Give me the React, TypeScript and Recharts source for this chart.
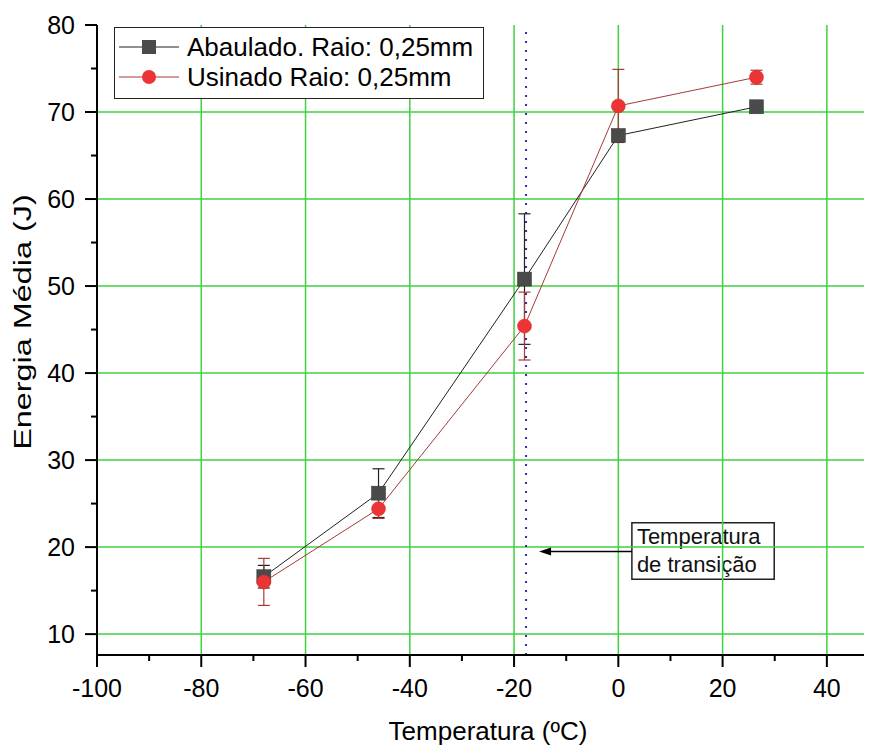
import React from 'react';
import {
  ComposedChart,
  Scatter,
  XAxis,
  YAxis,
  ErrorBar,
  ReferenceLine,
  ReferenceArea,
} from 'recharts';

// ---------- data ----------
const temperatures = [-68, -46, -18, 0, 26.5];
const abauladoValues = [16.6, 26.2, 50.8, 67.3, 70.6];
const abauladoErrors = [1.3, 2.8, 7.5, 0.6, 0.4];
const usinadoValues = [16.0, 24.4, 45.4, 70.7, 74.0];
const usinadoErrors = [2.7, 1.1, 3.9, 4.2, 0.8];
const seriesNames = ['Abaulado. Raio: 0,25mm', 'Usinado Raio: 0,25mm'];

const xTicks = [-100, -90, -80, -70, -60, -50, -40, -30, -20, -10, 0, 10, 20, 30, 40];
const xMajorTicks = [-100, -80, -60, -40, -20, 0, 20, 40];
const xGridValues = [-80, -60, -40, -20, 0, 20, 40];
const yTicks = [10, 15, 20, 25, 30, 35, 40, 45, 50, 55, 60, 65, 70, 75, 80];
const yMajorTicks = [10, 20, 30, 40, 50, 60, 70, 80];
const yGridValues = [10, 20, 30, 40, 50, 60, 70];

const transitionTemperature = -17.7;
const annotationLines = ['Temperatura', 'de transição'];
const annotationBoxX = [2.6, 29.9];
const annotationBoxY = [16.3, 22.8];
const arrowY = 19.5;
const arrowTipX = -15.2;

const xTitle = 'Temperatura (ºC)';
const yTitle = 'Energia Média (J)';

const abauladoData = temperatures.map((t, i) => ({ x: t, y: abauladoValues[i], err: abauladoErrors[i] }));
const usinadoData = temperatures.map((t, i) => ({ x: t, y: usinadoValues[i], err: usinadoErrors[i] }));

// ---------- styles ----------
const FONT = '"Liberation Sans", Arial, sans-serif';
const GRID_COLOR = '#3fd13f';
const BLACK_MARK = '#4a4a4a';
const BLACK_LINE = '#222222';
const RED_MARK = '#ec3434';
const RED_LINE = '#a83a3a';

const XTick = (props: any) => {
  const { x, y, payload } = props;
  const major = xMajorTicks.includes(payload.value);
  return (
    <g>
      <line x1={x} y1={y} x2={x} y2={y + (major ? 12 : 6)} stroke="#000" strokeWidth={2} />
      {major && (
        <text x={x} y={y + 42} textAnchor="middle" fontSize={25} fontFamily={FONT} fill="#000">
          {payload.value}
        </text>
      )}
    </g>
  );
};

const YTick = (props: any) => {
  const { x, y, payload } = props;
  const major = yMajorTicks.includes(payload.value);
  return (
    <g>
      <line x1={x - (major ? 12 : 6)} y1={y} x2={x} y2={y} stroke="#000" strokeWidth={2} />
      {major && (
        <text x={x - 22} y={y} dy="0.36em" textAnchor="end" fontSize={25} fontFamily={FONT} fill="#000">
          {payload.value}
        </text>
      )}
    </g>
  );
};

const renderYTitle = (props: any) => {
  const vb = props.viewBox || {};
  const cx = vb.x + 6;
  const cy = vb.y + vb.height / 2 - 18;
  return (
    <text
      transform={`translate(${cx},${cy}) rotate(-90) scale(1.35,1)`}
      textAnchor="middle"
      dominantBaseline="central"
      fontSize={24}
      fontFamily={FONT}
      fill="#000"
    >
      {yTitle}
    </text>
  );
};

const renderXTitle = (props: any) => {
  const vb = props.viewBox || {};
  const cx = vb.x + vb.width / 2;
  const cy = vb.y + 85;
  return (
    <text x={cx} y={cy} textAnchor="middle" fontSize={26} fontFamily={FONT} fill="#000">
      {xTitle}
    </text>
  );
};

const SquareShape = (props: any) => {
  const { cx, cy } = props;
  if (cx == null || cy == null) return null;
  return <rect x={cx - 7} y={cy - 7} width={14} height={14} fill={BLACK_MARK} stroke="#333" strokeWidth={0.5} />;
};

const CircleShape = (props: any) => {
  const { cx, cy } = props;
  if (cx == null || cy == null) return null;
  return <circle cx={cx} cy={cy} r={7} fill={RED_MARK} stroke="#d82828" strokeWidth={0.5} />;
};

const ArrowShape = (props: any) => {
  const { x1, y1, x2, y2 } = props;
  const tipX = x2;
  const tipY = y2;
  return (
    <g>
      <line x1={x1} y1={y1} x2={tipX + 10} y2={tipY} stroke="#000" strokeWidth={1.5} />
      <polygon points={`${tipX},${tipY} ${tipX + 12},${tipY - 4} ${tipX + 12},${tipY + 4}`} fill="#000" />
    </g>
  );
};

const renderAnnotation = (props: any) => {
  const vb = props.viewBox || {};
  return (
    <g>
      {annotationLines.map((line, i) => (
        <text
          key={line}
          x={vb.x + 5}
          y={vb.y + 21 + i * 28}
          fontSize={22}
          fontFamily={FONT}
          fill="#111"
        >
          {line}
        </text>
      ))}
    </g>
  );
};

const LegendIcon = ({ kind }: { kind: 'square' | 'circle' }) => (
  <svg width={60} height={30} style={{ display: 'block' }}>
    <line x1={0} y1={15} x2={60} y2={15} stroke={kind === 'square' ? BLACK_LINE : RED_LINE} strokeWidth={1.2} />
    {kind === 'square' ? (
      <rect x={23} y={8} width={14} height={14} fill={BLACK_MARK} />
    ) : (
      <circle cx={30} cy={15} r={7} fill={RED_MARK} />
    )}
  </svg>
);

export default function App() {
  return (
    <div style={{ position: 'relative', width: 864, height: 741, overflow: 'hidden', background: '#fff' }}>
      <ComposedChart
        width={880}
        height={741}
        margin={{ top: 17, right: 9, bottom: 34, left: 9 }}
        style={{ fontFamily: FONT }}
      >
        <XAxis
          type="number"
          dataKey="x"
          domain={[-100, 50]}
          ticks={xTicks}
          interval={0}
          tick={<XTick />}
          tickLine={false}
          tickSize={0}
          tickMargin={0}
          axisLine={{ stroke: '#000', strokeWidth: 2 }}
          height={60}
          allowDataOverflow
          label={renderXTitle}
        />
        <YAxis
          type="number"
          dataKey="y"
          domain={[7.6, 80]}
          ticks={yTicks}
          interval={0}
          tick={<YTick />}
          tickLine={false}
          tickSize={0}
          tickMargin={0}
          axisLine={{ stroke: '#000', strokeWidth: 2 }}
          width={80}
          allowDataOverflow
          label={renderYTitle}
        />
        {xGridValues.map((v) => (
          <ReferenceLine key={`gx${v}`} x={v} stroke={GRID_COLOR} strokeWidth={1.5} />
        ))}
        {yGridValues.map((v) => (
          <ReferenceLine key={`gy${v}`} y={v} stroke={GRID_COLOR} strokeWidth={1.5} />
        ))}
        <ReferenceLine
          x={transitionTemperature}
          stroke="#2b2ba8"
          strokeWidth={2}
          strokeDasharray="2 7"
        />
        <ReferenceArea
          x1={annotationBoxX[0]}
          x2={annotationBoxX[1]}
          y1={annotationBoxY[0]}
          y2={annotationBoxY[1]}
          fill="#fff"
          fillOpacity={0}
          stroke="#222"
          strokeWidth={1.5}
          label={renderAnnotation}
        />
        <ReferenceLine
          segment={[
            { x: annotationBoxX[0], y: arrowY },
            { x: arrowTipX, y: arrowY },
          ]}
          shape={<ArrowShape />}
        />
        <Scatter
          name={seriesNames[0]}
          data={abauladoData}
          dataKey="y"
          fill={BLACK_MARK}
          line={{ stroke: BLACK_LINE, strokeWidth: 1 }}
          shape={<SquareShape />}
          isAnimationActive={false}
        >
          <ErrorBar dataKey="err" direction="y" width={6} stroke="#222" strokeWidth={1.2} />
        </Scatter>
        <Scatter
          name={seriesNames[1]}
          data={usinadoData}
          dataKey="y"
          fill={RED_MARK}
          line={{ stroke: RED_LINE, strokeWidth: 1 }}
          shape={<CircleShape />}
          isAnimationActive={false}
        >
          <ErrorBar dataKey="err" direction="y" width={6} stroke={RED_LINE} strokeWidth={1.2} />
        </Scatter>
      </ComposedChart>
      <div
        style={{
          position: 'absolute',
          left: 106,
          top: 19,
          width: 370,
          height: 72,
          boxSizing: 'border-box',
          border: '1.5px solid #222',
          background: '#fff',
          paddingTop: 4,
          paddingLeft: 4,
          fontFamily: FONT,
          fontSize: 26,
          color: '#000',
        }}
      >
        {seriesNames.map((name, i) => (
          <div key={name} style={{ display: 'flex', alignItems: 'center', height: 30 }}>
            <LegendIcon kind={i === 0 ? 'square' : 'circle'} />
            <span style={{ marginLeft: 8, lineHeight: '30px', whiteSpace: 'nowrap' }}>{name}</span>
          </div>
        ))}
      </div>
    </div>
  );
}
